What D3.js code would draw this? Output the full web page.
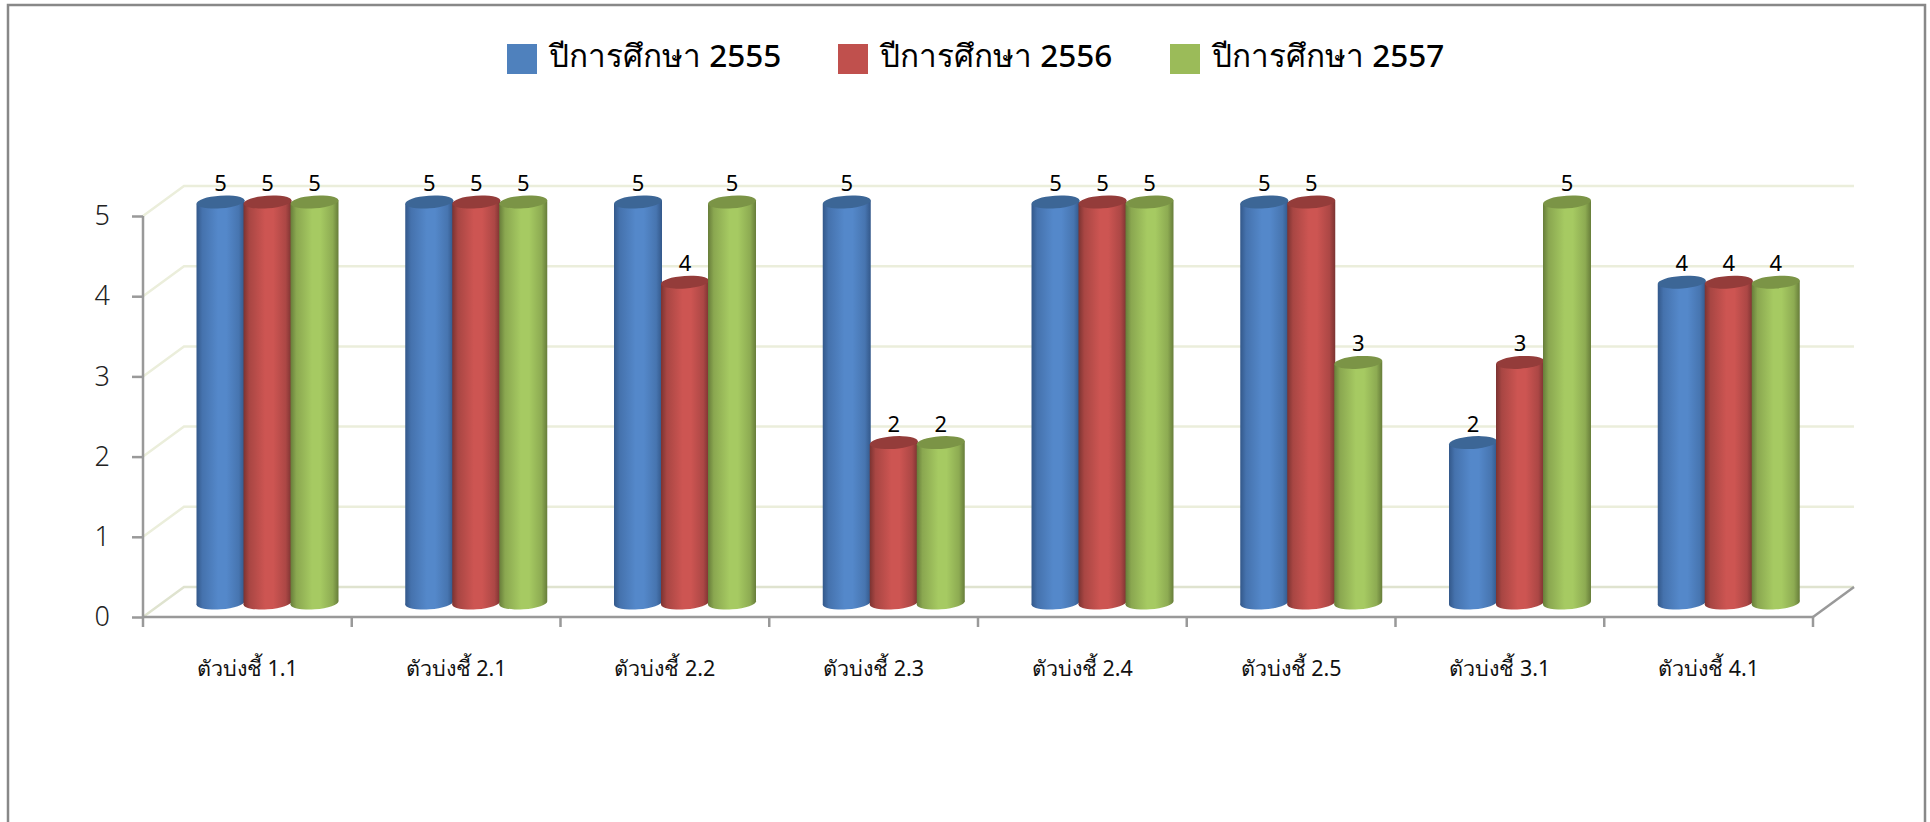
<!DOCTYPE html>
<html><head><meta charset="utf-8">
<script src="https://cdn.jsdelivr.net/npm/d3@7/dist/d3.min.js"></script>
<style>html,body{margin:0;padding:0;background:#fff}svg{display:block}text{font-family:"Noto Sans","Open Sans",Tahoma,sans-serif}</style>
</head><body><svg id="c" width="1930" height="822"></svg>
<script>
const categories = ["ตัวบ่งชี้ 1.1","ตัวบ่งชี้ 2.1","ตัวบ่งชี้ 2.2","ตัวบ่งชี้ 2.3","ตัวบ่งชี้ 2.4","ตัวบ่งชี้ 2.5","ตัวบ่งชี้ 3.1","ตัวบ่งชี้ 4.1"];
const seriesNames = ["ปีการศึกษา 2555","ปีการศึกษา 2556","ปีการศึกษา 2557"];
const values2555 = [5,5,5,5,5,5,2,4];
const values2556 = [5,5,4,2,5,5,3,4];
const values2557 = [5,5,5,2,5,3,5,4];
const yTicks = [0,1,2,3,4,5];

const allValues = [values2555, values2556, values2557];
const palette = [
 {edge:"#33588a",mid:"#5488ca",top:"#3c6696",leg:"#4f81bd"},
 {edge:"#7b3331",mid:"#cd5552",top:"#943c3a",leg:"#c0504d"},
 {edge:"#677d3a",mid:"#a6ca62",top:"#7b9446",leg:"#9bbb59"}];
const depthX = 41, depthY = 30;
const svg = d3.select("#c");

svg.append("path").attr("d","M8,823V5H1925V823").attr("fill","none").attr("stroke","#888").attr("stroke-width",2.5);

const x = d3.scaleBand().domain(categories).range([143,1813]);
const y = d3.scaleLinear().domain([0,5]).range([617,216]);
const inner = d3.scaleBand().domain(d3.range(3)).range([54,54+141]);

const defs = svg.append("defs");
palette.forEach((p,i)=>{
  const g = defs.append("linearGradient").attr("id","cyl"+i);
  [[0,p.edge],[.12,d3.interpolateRgb(p.edge,p.mid)(.55)],[.45,p.mid],[.62,p.mid],[.88,d3.interpolateRgb(p.edge,p.mid)(.6)],[1,p.edge]]
   .forEach(s=>g.append("stop").attr("offset",s[0]).attr("stop-color",s[1]));
});

// back wall and side gridlines
const grid = svg.append("g").attr("fill","none").attr("stroke-width",2.5);
yTicks.forEach(v=>{
  grid.append("path")
   .attr("d",`M${x.range()[0]},${y(v)}L${x.range()[0]+depthX},${y(v)-depthY}H${x.range()[1]+depthX}`)
   .attr("stroke",v===0?"#dfe3cf":"#ebeedb");
});

// axes
const yAxis = svg.append("g").attr("transform",`translate(${x.range()[0]},0)`)
  .call(d3.axisLeft(y).tickValues(yTicks).tickFormat(d3.format("d")).tickSize(11).tickPadding(22));
const xAxis = svg.append("g").attr("transform",`translate(0,${y(0)})`)
  .call(d3.axisBottom(x).tickSize(0).tickPadding(44));
[yAxis,xAxis].forEach(a=>{
  a.selectAll(".domain").attr("stroke","#999").attr("stroke-width",2.5);
  a.selectAll("line").attr("stroke","#999").attr("stroke-width",2.5);
});
yAxis.selectAll(".tick text").attr("font-size",27).attr("font-weight",300).attr("fill","#222");
xAxis.selectAll(".tick text").attr("font-size",21.5).attr("fill","#111");
xAxis.select(".domain").attr("d",`M${x.range()[0]},0H${x.range()[1]}`);
yAxis.select(".domain").attr("d",`M0,${y(5)}V${y(0)}`);
xAxis.selectAll("line.edge").data(categories.concat([null])).enter().append("line").attr("class","edge")
  .attr("x1",d=>d?x(d):x.range()[1]).attr("x2",d=>d?x(d):x.range()[1])
  .attr("y1",0).attr("y2",10).attr("stroke","#999").attr("stroke-width",2.5);
svg.append("path").attr("d",`M${x.range()[1]},${y(0)}l${depthX},${-depthY}`).attr("stroke","#999").attr("stroke-width",2.5).attr("fill","none");

// cylinders
const lift = 14, ry = 6.3, tilt = -4;
const rows = allValues.flatMap((vals,s)=>vals.map((v,c)=>({s,c,v})));
const bars = svg.append("g").selectAll("g").data(rows).join("g");
const rx = inner.bandwidth()/2 + 0.5;
const tiltDy = Math.sin(tilt*Math.PI/180)*rx;
const cxOf = d => x(categories[d.c])+inner(d.s)+inner.bandwidth()/2;
bars.append("ellipse").attr("fill",d=>`url(#cyl${d.s})`)
  .attr("rx",rx).attr("ry",ry)
  .attr("transform",d=>`translate(${cxOf(d)},${y(0)-lift}) rotate(${tilt})`);
bars.append("path").attr("fill",d=>`url(#cyl${d.s})`).attr("d",d=>{
  const cx = cxOf(d), t = y(d.v)-lift, b = y(0)-lift;
  return `M${cx-rx},${t-tiltDy}L${cx-rx},${b-tiltDy}L${cx+rx},${b+tiltDy}L${cx+rx},${t+tiltDy}Z`;
});
bars.append("ellipse").attr("fill",d=>palette[d.s].top)
  .attr("rx",rx).attr("ry",ry)
  .attr("transform",d=>`translate(${cxOf(d)},${y(d.v)-lift}) rotate(${tilt})`);
bars.append("text").text(d=>d.v).attr("text-anchor","middle").attr("font-size",22).attr("fill","#000")
  .attr("x",cxOf)
  .attr("y",d=>y(d.v)-lift-11);

// legend
const legendX = d3.scaleOrdinal().domain(d3.range(3)).range([507,838,1170]);
const leg = svg.append("g").selectAll("g").data(seriesNames).join("g")
  .attr("transform",(d,i)=>`translate(${legendX(i)},44)`);
leg.append("rect").attr("width",30).attr("height",30).attr("fill",(d,i)=>palette[i].leg);
leg.append("text").text(d=>d).attr("x",42).attr("y",23).attr("font-size",31.5).attr("font-weight",500).attr("fill","#000");
</script></body></html>
